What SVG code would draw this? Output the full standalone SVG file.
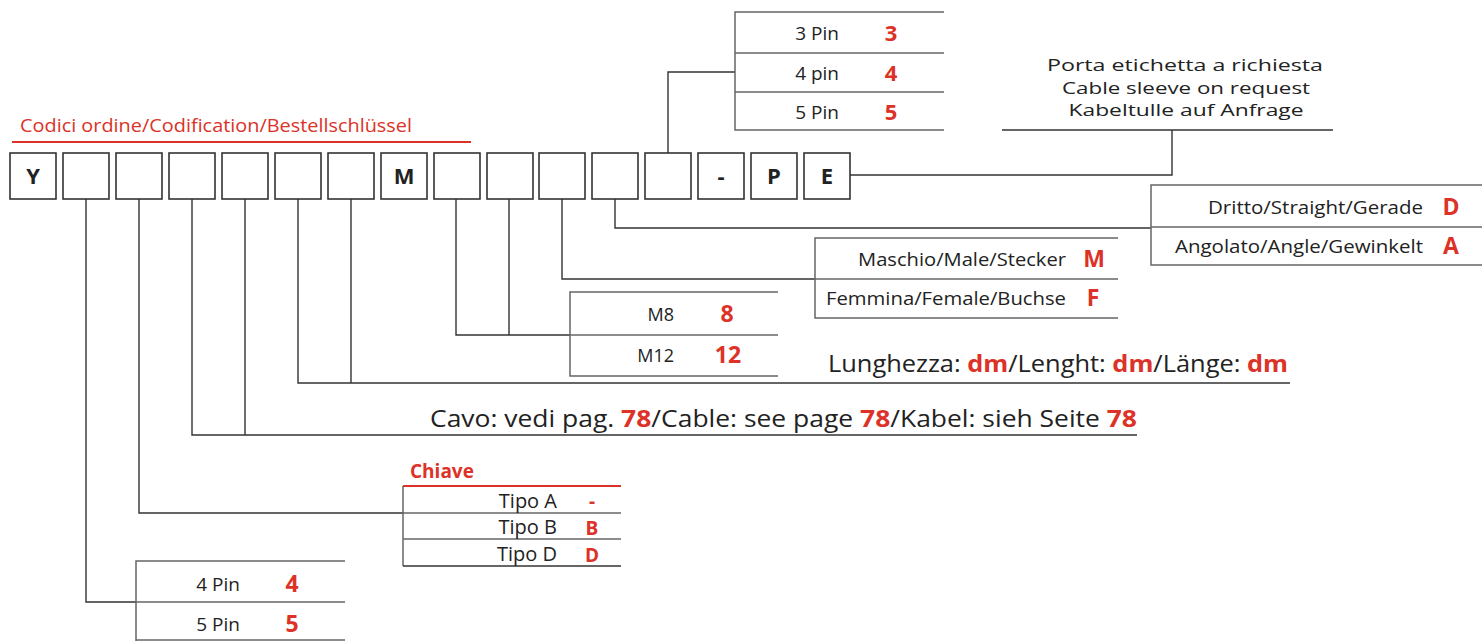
<svg xmlns="http://www.w3.org/2000/svg" width="1482" height="641" viewBox="0 0 1482 641">
<style>
.bg{fill:#fff}
.box{fill:#fff;stroke:#333;stroke-width:1.6}
.bl{font-family:"Open Sans","Liberation Sans",sans-serif;font-weight:700;font-size:22px;fill:#222;text-anchor:middle}
.conn{fill:none;stroke:#333;stroke-width:1.4}
.tl{fill:none;stroke:#666;stroke-width:1.5}
.t{font-family:"Open Sans","Liberation Sans",sans-serif;fill:#222}
.r{fill:#dc3228}
.rb{font-family:"Open Sans","Liberation Sans",sans-serif;font-weight:700;fill:#dc3228;text-anchor:middle}
.end{text-anchor:end}
.mid{text-anchor:middle}
</style>
<rect class="bg" width="1482" height="641"/>
<g id="header">
<text class="t r" x="20" y="132" font-size="18" textLength="392" lengthAdjust="spacingAndGlyphs">Codici ordine/Codification/Bestellschlüssel</text>
<line x1="12" y1="142" x2="471" y2="142" stroke="#dc3228" stroke-width="2"/>
</g>
<g id="code-boxes">
<rect class="box" x="10" y="153" width="46" height="46"/><text class="bl" x="33" y="184">Y</text>
<rect class="box" x="63" y="153" width="46" height="46"/>
<rect class="box" x="116" y="153" width="46" height="46"/>
<rect class="box" x="169" y="153" width="46" height="46"/>
<rect class="box" x="222" y="153" width="46" height="46"/>
<rect class="box" x="275" y="153" width="46" height="46"/>
<rect class="box" x="328" y="153" width="46" height="46"/>
<rect class="box" x="381" y="153" width="46" height="46"/><text class="bl" x="404" y="184">M</text>
<rect class="box" x="434" y="153" width="46" height="46"/>
<rect class="box" x="487" y="153" width="46" height="46"/>
<rect class="box" x="539" y="153" width="46" height="46"/>
<rect class="box" x="592" y="153" width="46" height="46"/>
<rect class="box" x="645" y="153" width="46" height="46"/>
<rect class="box" x="698" y="153" width="46" height="46"/><text class="bl" x="721" y="184">-</text>
<rect class="box" x="751" y="153" width="46" height="46"/><text class="bl" x="774" y="184">P</text>
<rect class="box" x="804" y="153" width="46" height="46"/><text class="bl" x="827" y="184">E</text>
</g>
<g id="connectors">
<polyline class="conn" points="86,199 86,602 136,602"/>
<polyline class="conn" points="139,199 139,513 403,513"/>
<polyline class="conn" points="192,199 192,435 1137,435"/>
<line class="conn" x1="245" y1="199" x2="245" y2="435"/>
<polyline class="conn" points="298,199 298,383 1290,383"/>
<line class="conn" x1="351" y1="199" x2="351" y2="383"/>
<polyline class="conn" points="456,199 456,335 570,335"/>
<line class="conn" x1="509" y1="199" x2="509" y2="335"/>
<polyline class="conn" points="562,199 562,279 815,279"/>
<polyline class="conn" points="615,199 615,228 1151,228"/>
<polyline class="conn" points="668,153 668,72 735,72"/>
<polyline class="conn" points="850,175 1172,175 1172,130"/>
</g>
<g id="pins-top">
<polyline class="tl" points="944,12 735,12 735,130 944,130"/>
<line class="tl" x1="735" y1="53" x2="944" y2="53"/>
<line class="tl" x1="735" y1="92" x2="944" y2="92"/>
<text class="t end" x="839" y="40" font-size="19">3 Pin</text><text class="rb" x="891" y="41" font-size="22">3</text>
<text class="t end" x="839" y="80" font-size="19">4 pin</text><text class="rb" x="891" y="81" font-size="22">4</text>
<text class="t end" x="839" y="119" font-size="19">5 Pin</text><text class="rb" x="891" y="120" font-size="22">5</text>
</g>
<g id="sleeve">
<text class="t mid" x="1185" y="71" font-size="16.5" textLength="276" lengthAdjust="spacingAndGlyphs">Porta etichetta a richiesta</text>
<text class="t mid" x="1186" y="93.5" font-size="16.5" textLength="248" lengthAdjust="spacingAndGlyphs">Cable sleeve on request</text>
<text class="t mid" x="1186" y="116" font-size="16.5" textLength="235" lengthAdjust="spacingAndGlyphs">Kabeltulle auf Anfrage</text>
<line class="conn" x1="1002" y1="130" x2="1333" y2="130"/>
</g>
<g id="shape">
<polyline class="tl" points="1482,185 1151,185 1151,265 1482,265"/>
<line class="tl" x1="1151" y1="227" x2="1482" y2="227"/>
<text class="t end" x="1423" y="214" font-size="19" textLength="215" lengthAdjust="spacingAndGlyphs">Dritto/Straight/Gerade</text><text class="rb" x="1451" y="215" font-size="23">D</text>
<text class="t end" x="1423" y="253" font-size="19" textLength="248" lengthAdjust="spacingAndGlyphs">Angolato/Angle/Gewinkelt</text><text class="rb" x="1451" y="254" font-size="23">A</text>
</g>
<g id="gender">
<polyline class="tl" points="1118,238 815,238 815,318 1118,318"/>
<line class="tl" x1="815" y1="279" x2="1118" y2="279"/>
<text class="t end" x="1066" y="266" font-size="19" textLength="208" lengthAdjust="spacingAndGlyphs">Maschio/Male/Stecker</text><text class="rb" x="1094" y="267" font-size="23">M</text>
<text class="t end" x="1066" y="305" font-size="19" textLength="240" lengthAdjust="spacingAndGlyphs">Femmina/Female/Buchse</text><text class="rb" x="1093" y="306" font-size="23">F</text>
</g>
<g id="thread">
<polyline class="tl" points="778,292 570,292 570,376 778,376"/>
<line class="tl" x1="570" y1="335" x2="778" y2="335"/>
<text class="t end" x="674" y="321" font-size="18">M8</text><text class="rb" x="727" y="322" font-size="23">8</text>
<text class="t end" x="674" y="362" font-size="18">M12</text><text class="rb" x="728" y="363" font-size="23">12</text>
</g>
<g id="length">
<text class="t" x="828" y="372" font-size="24" textLength="460" lengthAdjust="spacingAndGlyphs">Lunghezza: <tspan class="r" font-weight="700">dm</tspan>/Lenght: <tspan class="r" font-weight="700">dm</tspan>/Länge: <tspan class="r" font-weight="700">dm</tspan></text>
</g>
<g id="cable">
<text class="t" x="430" y="427" font-size="24" textLength="707" lengthAdjust="spacingAndGlyphs">Cavo: vedi pag. <tspan class="r" font-weight="700">78</tspan>/Cable: see page <tspan class="r" font-weight="700">78</tspan>/Kabel: sieh Seite <tspan class="r" font-weight="700">78</tspan></text>
</g>
<g id="key">
<text class="t r" x="410" y="478" font-size="19" font-weight="700">Chiave</text>
<line x1="403" y1="486" x2="621" y2="486" stroke="#dc3228" stroke-width="2"/>
<line class="tl" x1="403" y1="486" x2="403" y2="566"/>
<line class="tl" x1="403" y1="513" x2="621" y2="513"/>
<line class="tl" x1="403" y1="539" x2="621" y2="539"/>
<line class="conn" x1="403" y1="566" x2="621" y2="566"/>
<text class="t end" x="557" y="508" font-size="20">Tipo A</text><text class="rb" x="592" y="508" font-size="19">-</text>
<text class="t end" x="557" y="534" font-size="20">Tipo B</text><text class="rb" x="592" y="535" font-size="19">B</text>
<text class="t end" x="557" y="561" font-size="20">Tipo D</text><text class="rb" x="592" y="562" font-size="19">D</text>
</g>
<g id="pins-bottom">
<polyline class="tl" points="345,561 136,561 136,641"/>
<line class="tl" x1="136" y1="602" x2="345" y2="602"/>
<line class="tl" x1="136" y1="640" x2="345" y2="640"/>
<text class="t end" x="240" y="591" font-size="19">4 Pin</text><text class="rb" x="292" y="592" font-size="23">4</text>
<text class="t end" x="240" y="631" font-size="19">5 Pin</text><text class="rb" x="292" y="632" font-size="23">5</text>
</g>
</svg>
